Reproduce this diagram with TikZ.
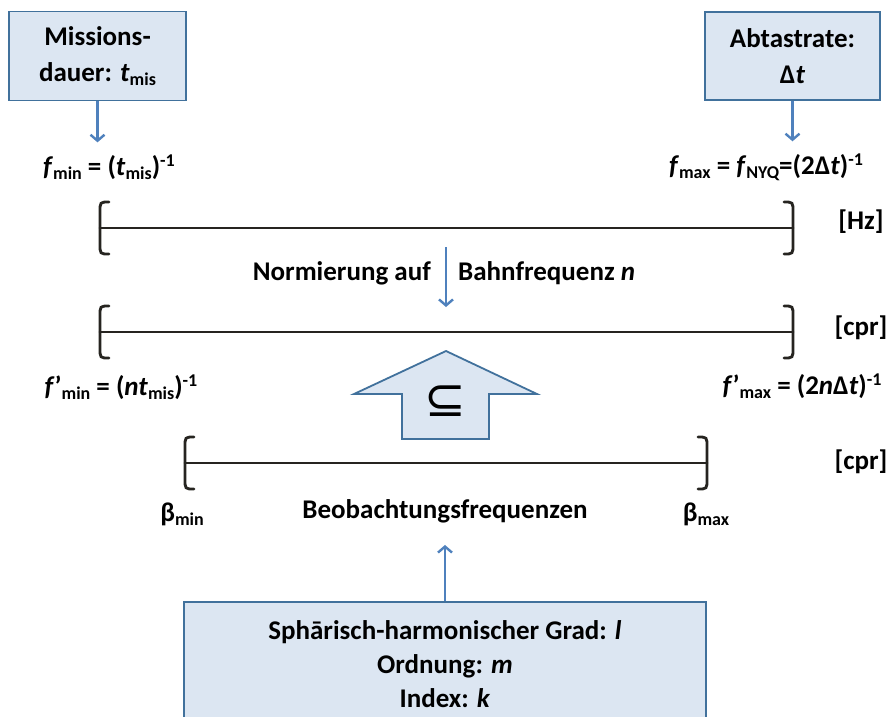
\documentclass[tikz,border=0pt]{standalone}
\usepackage{fontspec}
\setmainfont{Carlito}
\newfontfamily\symfont{DejaVu Sans}
\usetikzlibrary{positioning,calc,arrows.meta}
\definecolor{boxFill}{HTML}{DCE6F2}
\definecolor{boxEdge}{HTML}{41719C}
\definecolor{arrowBlue}{HTML}{4F81BD}
\definecolor{rangeInk}{HTML}{262420}
\newcommand{\lo}[1]{\raisebox{-0.3ex}{\fontsize{18}{18}\selectfont #1}}
\newcommand{\hi}[1]{\raisebox{0.7ex}{\fontsize{18}{18}\selectfont #1}}
\begin{document}
\begin{tikzpicture}[
    x=1pt, y=-1pt,
    every node/.style = {font=\fontsize{27}{36}\selectfont\bfseries, align=center, inner sep=0pt},
    infobox/.style    = {draw=boxEdge, line width=1.8pt, fill=boxFill},
    arrow/.style      = {-{Straight Barb[length=6pt,width=14pt]}, draw=arrowBlue, line width=2.4pt},
    rangeline/.style  = {draw=rangeInk, line width=2.8pt, line cap=round},
    unit/.style       = {anchor=center},
  ]
  \useasboundingbox (0,0) rectangle (894,716);

  %% Row 1: input boxes (y = 56)
  \node[infobox, minimum width=177, minimum height=89] (mis) at (97.5,56)
    {Missions-\\dauer: \textit{t}\lo{mis}};
  \node[infobox, minimum width=175, minimum height=88] (dt)  at (792.5,56)
    {Abtastrate:\\Δ\textit{t}};

  %% Row 2: frequency limits (y = 167)
  \node (fmin) at (109,167) {\textit{f}\lo{min} = (\textit{t}\lo{mis})\hi{-1}};
  \node (fmax) at (766,167) {\textit{f}\lo{max} = \textit{f}\lo{NYQ}=(2Δ\textit{t})\hi{-1}};
  \draw[arrow, shorten >=12pt] (mis.south) -- (mis.south |- fmin.north);
  \draw[arrow, shorten >=12pt] (dt.south)  -- (dt.south  |- fmax.north);

  %% Three ranges: left x / right x / centre y
  \foreach \xl/\xr/\yy in {100/793/228, 100/793/332, 185/707/463}{
    \draw[rangeline] (\xl,\yy) -- (\xr,\yy);
    \draw[rangeline] (\xl+9,\yy-26) .. controls (\xl,\yy-26) .. (\xl,\yy-16)
                 -- (\xl,\yy+16) .. controls (\xl,\yy+26) .. (\xl+9,\yy+26);
    \draw[rangeline] (\xr-9,\yy-26) .. controls (\xr,\yy-26) .. (\xr,\yy-16)
                 -- (\xr,\yy+16) .. controls (\xr,\yy+26) .. (\xr-9,\yy+26);
  }
  \node[unit] (hz)   at (861,222) {[Hz]};
  \node[unit] (cpr1) at (861,328) {[cpr]};
  \node[unit] (cpr2) at (861,462) {[cpr]};

  %% Normalisation step
  \coordinate (normTop) at (446,247);
  \coordinate (normBot) at (446,307);
  \draw[arrow] (normTop) -- (normBot);
  \node[anchor=east] (norm1) at (431,273) {Normierung auf};
  \node[anchor=west] (norm2) at (458,273) {Bahnfrequenz \textit{n}};

  %% Normalised limits (y = 386)
  \node (fpmin) at (121,387) {\textit{f}\textquoteright\lo{min} = (\textit{nt}\lo{mis})\hi{-1}};
  \node (fpmax) at (802,386) {\textit{f}\textquoteright\lo{max} = (2\textit{n}Δ\textit{t})\hi{-1}};

  %% Inclusion arrow
  \draw[draw=boxEdge, line width=1.8pt, fill=boxFill]
    (446,351) -- (537,394) -- (489,394) -- (489,439) -- (402,439) -- (402,394) -- (354,394) -- cycle;
  \node (incl) at (445,401) {\symfont\mdseries\fontsize{50}{50}\selectfont ⊆};

  %% Observation frequencies (y = 512)
  \node (bmin) at (182,514) {β\lo{min}};
  \node (beob) at (445,511) {Beobachtungsfrequenzen};
  \node (bmax) at (706,514) {β\lo{max}};

  %% Bottom box: spherical harmonic indices
  \node[infobox, minimum width=522, minimum height=124,
        font=\fontsize{27}{34}\selectfont\bfseries] (sh) at (445,664)
    {Sph\={a}risch-harmonischer Grad: \textit{l}\\Ordnung: \textit{m}\\Index: \textit{k}};
  \draw[arrow, shorten >=22pt] (sh.north) -- (beob.south);

\end{tikzpicture}
\end{document}
